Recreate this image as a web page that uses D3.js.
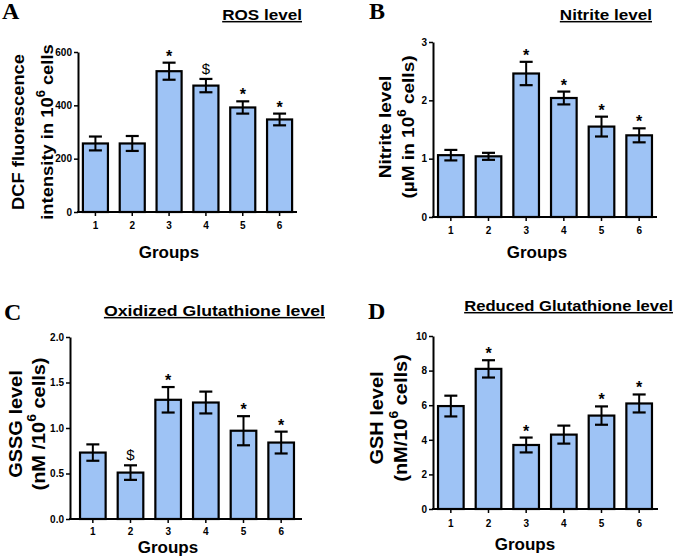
<!DOCTYPE html>
<html><head><meta charset="utf-8">
<script src="https://cdn.jsdelivr.net/npm/d3@7"></script>
<style>
html,body{margin:0;padding:0;background:#fff;}
svg{display:block;}
text{font-family:"Liberation Sans",Arial,sans-serif;font-weight:bold;fill:#000;}
</style></head>
<body>
<svg id="chart" width="685" height="558"></svg>
<script>
// ---- data ----
const groups = ["1","2","3","4","5","6"];

const rosMean = [257, 257, 528, 474, 392, 347];
const rosErr  = [26, 28, 32, 25, 23, 22];
const rosMarks = ["", "", "*", "$", "*", "*"];
const rosTicks = [0, 200, 400, 600];

const nitriteMean = [1.06, 1.04, 2.46, 2.04, 1.55, 1.40];
const nitriteErr  = [0.09, 0.06, 0.20, 0.11, 0.17, 0.12];
const nitriteMarks = ["", "", "*", "*", "*", "*"];
const nitriteTicks = [0, 1, 2, 3];

const gssgMean = [0.73, 0.51, 1.31, 1.28, 0.97, 0.84];
const gssgErr  = [0.09, 0.08, 0.14, 0.12, 0.16, 0.12];
const gssgMarks = ["", "$", "*", "", "*", "*"];
const gssgTicks = [0.0, 0.5, 1.0, 1.5, 2.0];

const gshMean = [5.95, 8.1, 3.7, 4.3, 5.4, 6.1];
const gshErr  = [0.6, 0.5, 0.43, 0.52, 0.53, 0.52];
const gshMarks = ["", "*", "*", "", "*", "*"];
const gshTicks = [0, 2, 4, 6, 8, 10];

// ---- layout per panel ----
const panels = [
  {letter:"A", title:"ROS level", mean:rosMean, err:rosErr, marks:rosMarks, ticks:rosTicks, fmt:d3.format("d"),
   ymax:600, x0:78, x1:297, band:[77,298], yTop:52, yBot:212,
   ylab:[[["DCF fluorescence",0]],[["intensity in 10",0],["6",1],[" cells",0]]], ylabX:[24,53], ylabY:132, ylabSize:17, ylabSx:1.08,
   titleEnd:302, titleY:20, titleSx:1.14, letterX:2, letterY:19, groupsX:169, groupsY:258, tickLabY:229},
  {letter:"B", title:"Nitrite level", mean:nitriteMean, err:nitriteErr, marks:nitriteMarks, ticks:nitriteTicks, fmt:d3.format("d"),
   ymax:3, x0:433, x1:657, band:[432,658], yTop:42, yBot:217,
   ylab:[[["Nitrite level",0]],[["(\u00b5M in 10",0],["6",1],[" cells)",0]]], ylabX:[391,414], ylabY:127, ylabSize:17, ylabSx:1.12,
   titleEnd:652, titleY:20, titleSx:1.14, letterX:369, letterY:19, groupsX:537, groupsY:258, tickLabY:234},
  {letter:"C", title:"Oxidized Glutathione level", mean:gssgMean, err:gssgErr, marks:gssgMarks, ticks:gssgTicks, fmt:d3.format(".1f"),
   ymax:2, x0:70, x1:302, band:[74,300], yTop:337, yBot:519,
   ylab:[[["GSSG level",0]],[["(nM /10",0],["6",1],[" cells)",0]]], ylabX:[22,45], ylabY:424, ylabSize:19, ylabSx:1.05,
   titleEnd:325, titleY:316, titleSx:1.18, letterX:4, letterY:320, groupsX:168, groupsY:553, tickLabY:535},
  {letter:"D", title:"Reduced Glutathione level", mean:gshMean, err:gshErr, marks:gshMarks, ticks:gshTicks, fmt:d3.format("d"),
   ymax:10, x0:433, x1:658, band:[432,658], yTop:336, yBot:509,
   ylab:[[["GSH level",0]],[["(nM/10",0],["6",1],[" cells)",0]]], ylabX:[383,407], ylabY:418, ylabSize:19, ylabSx:1.05,
   titleEnd:673, titleY:311, titleSx:1.11, letterX:368, letterY:319, groupsX:525, groupsY:550, tickLabY:527}
];

const svg = d3.select("#chart");
const barFill = "#9ec3f5";

function addRichText(sel, parts, size) {
  parts.forEach(([t, sup], i) => {
    const ts = sel.append("tspan").text(t);
    if (sup) { ts.attr("font-size", size*0.7).attr("dy", -size*0.45); }
    else if (i > 0 && parts[i-1][1]) { ts.attr("font-size", size).attr("dy", size*0.45); }
  });
}

panels.forEach(p => {
  const g = svg.append("g");
  const x = d3.scaleBand().domain(groups).range(p.band).paddingInner(0.32).paddingOuter(0.16);
  const y = d3.scaleLinear().domain([0, p.ymax]).range([p.yBot, p.yTop]);

  // bars
  g.selectAll("rect.bar").data(groups).join("rect")
    .attr("x", d => x(d)).attr("width", x.bandwidth())
    .attr("y", (d,i) => y(p.mean[i])).attr("height", (d,i) => p.yBot - y(p.mean[i]))
    .attr("fill", barFill).attr("stroke", "#000").attr("stroke-width", 2.2);

  // error bars
  const capW = 13;
  groups.forEach((d,i) => {
    const cx = x(d) + x.bandwidth()/2;
    const hi = y(p.mean[i] + p.err[i]), lo = y(p.mean[i] - p.err[i]);
    g.append("line").attr("x1", cx).attr("x2", cx).attr("y1", hi).attr("y2", lo).attr("stroke","#000").attr("stroke-width",2);
    g.append("line").attr("x1", cx-capW/2).attr("x2", cx+capW/2).attr("y1", hi).attr("y2", hi).attr("stroke","#000").attr("stroke-width",2.2);
    g.append("line").attr("x1", cx-capW/2).attr("x2", cx+capW/2).attr("y1", lo).attr("y2", lo).attr("stroke","#000").attr("stroke-width",2.2);
    const m = p.marks[i];
    if (m) {
      g.append("text").attr("x", cx).attr("y", m === "$" ? hi - 5 : hi - 1)
        .attr("text-anchor","middle").attr("font-size", m === "$" ? 15 : 16)
        .style("font-weight", m === "$" ? "normal" : "bold").text(m);
    }
  });

  // y axis
  const ya = g.append("g").attr("transform", `translate(${p.x0},0)`)
    .call(d3.axisLeft(y).tickValues(p.ticks).tickFormat(p.fmt).tickSize(4).tickSizeOuter(0).tickPadding(2));
  ya.select(".domain").attr("stroke-width", 2);
  ya.selectAll(".tick line").attr("stroke-width", 1.5);
  ya.selectAll(".tick text").attr("font-size", 10).attr("font-family", null).style("font-weight","bold");

  // x axis
  const xa = g.append("g").attr("transform", `translate(0,${p.yBot})`)
    .call(d3.axisBottom(x).tickSize(4).tickSizeOuter(0).tickPadding(3));
  xa.select(".domain").remove();
  xa.selectAll(".tick line").attr("stroke-width", 1.5);
  xa.selectAll(".tick text").attr("font-size", 10).attr("font-family", null).style("font-weight","bold")
    .attr("dy", null).attr("y", p.tickLabY - p.yBot);
  g.append("line").attr("x1", p.x0 - 1).attr("x2", p.x1).attr("y1", p.yBot).attr("y2", p.yBot)
    .attr("stroke","#000").attr("stroke-width",2);

  // y label lines (rotated)
  p.ylab.forEach((parts, li) => {
    const t = g.append("text")
      .attr("transform", `translate(${p.ylabX[li]},${p.ylabY}) rotate(-90) scale(${p.ylabSx},1)`)
      .attr("text-anchor","middle").attr("font-size", p.ylabSize);
    addRichText(t, parts, p.ylabSize);
  });

  // x label
  g.append("text").attr("x", p.groupsX).attr("y", p.groupsY).attr("text-anchor","middle")
    .attr("font-size", 17).text("Groups");

  // title
  g.append("text").attr("transform", `translate(${p.titleEnd},${p.titleY}) scale(${p.titleSx},1)`)
    .attr("text-anchor","end").attr("font-size", 15).style("text-decoration","underline").text(p.title);

  // panel letter
  g.append("text").attr("x", p.letterX).attr("y", p.letterY)
    .style("font-family", '"Liberation Serif","Times New Roman",serif').attr("font-size", 24).text(p.letter);
});
</script>
</body></html>
